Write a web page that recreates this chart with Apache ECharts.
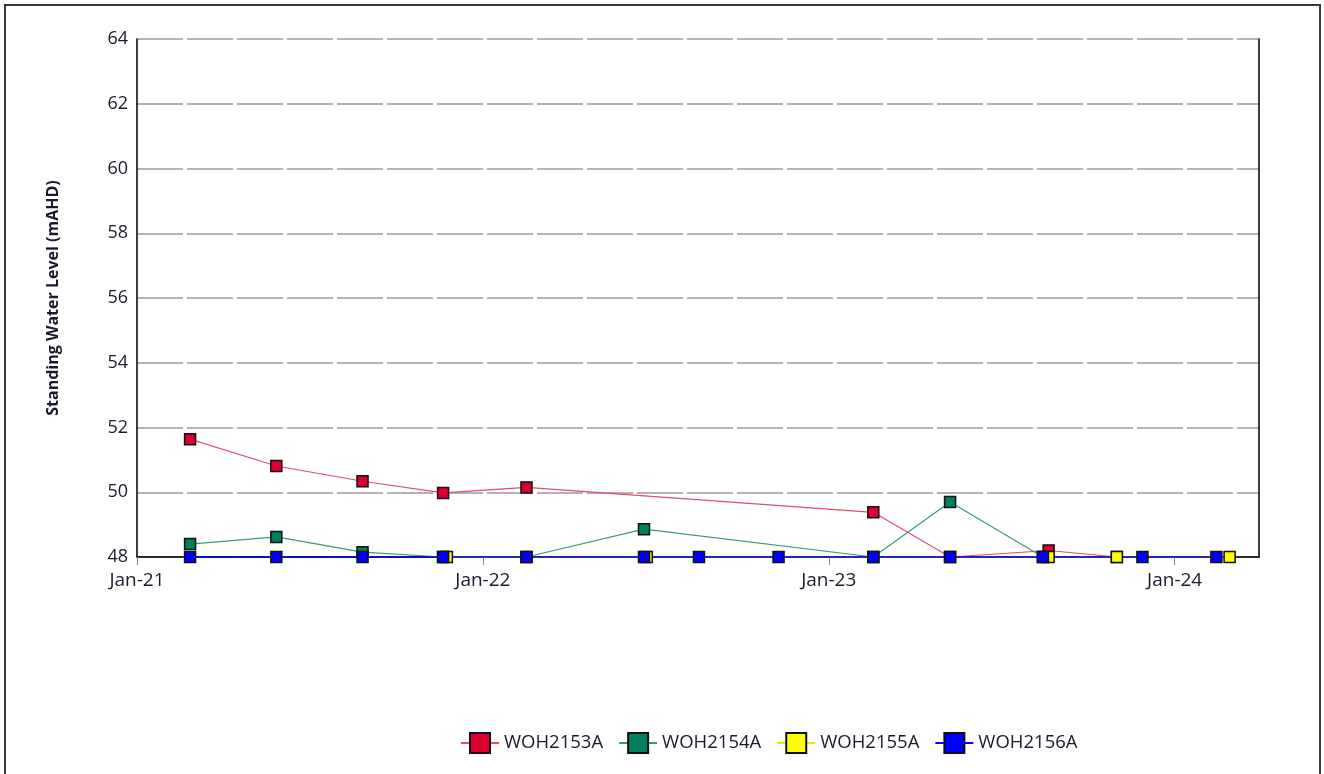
<!DOCTYPE html>
<html>
<head>
<meta charset="utf-8">
<script src="https://cdn.jsdelivr.net/npm/echarts@6/dist/echarts.min.js"></script>
<style>
  html, body { margin: 0; padding: 0; background: #fff; }
  #waterLevel { width: 1324px; height: 774px; }
</style>
</head>
<body>
<div id="waterLevel"></div>
<script>
// sample dates / values
let datesA = ['2021-02-26', '2021-05-28', '2021-08-27', '2021-11-20', '2022-02-16', '2023-02-17', '2023-05-09', '2023-08-21', '2023-11-01'];
let valuesA = [51.64, 50.81, 50.34, 49.98, 50.15, 49.38, 48.0, 48.2, 48.0];

let datesB = ['2021-02-26', '2021-05-28', '2021-08-27', '2021-11-20', '2022-02-16', '2022-06-20', '2023-02-17', '2023-05-09', '2023-08-15'];
let valuesB = [48.4, 48.62, 48.15, 48.0, 48.0, 48.86, 48.0, 49.7, 48.0];

let datesC = ['2021-11-24', '2022-06-23', '2023-08-21', '2023-11-01', '2024-02-28'];
let valuesC = [48.0, 48.0, 48.0, 48.0, 48.0];

let datesD = ['2021-02-26', '2021-05-28', '2021-08-27', '2021-11-20', '2022-02-16', '2022-06-20', '2022-08-17', '2022-11-09', '2023-02-17', '2023-05-09', '2023-08-15', '2023-11-28', '2024-02-14'];
let valuesD = [48.0, 48.0, 48.0, 48.0, 48.0, 48.0, 48.0, 48.0, 48.0, 48.0, 48.0, 48.0, 48.0];

let seriesNames = ['WOH2153A', 'WOH2154A', 'WOH2155A', 'WOH2156A'];
let lineColors = ['#ea4a66', '#3a9a78', '#e6e600', '#0000ff'];
let markColors = ['#dc0030', '#00805c', '#ffff00', '#0000ff'];

let xTickLabels = ['Jan-21', 'Jan-22', 'Jan-23', 'Jan-24'];
let xStart = '2021-01-01';
let xEnd = '2024-03-30';

var DAY = 24 * 3600 * 1000;
var fontName = "'Open Sans', 'Liberation Sans', sans-serif";
var textColor = '#1a1a2e';

function toPairs(dates, values) {
    return dates.map(function (d, i) { return [Date.parse(d), values[i]]; });
}

var allData = [toPairs(datesA, valuesA), toPairs(datesB, valuesB), toPairs(datesC, valuesC), toPairs(datesD, valuesD)];

var xMin = Date.parse(xStart);
var xMax = Date.parse(xEnd);

var levelChart = echarts.init(document.getElementById('waterLevel'));

var series = seriesNames.map(function (name, i) {
    return {
        name: name,
        type: 'line',
        data: allData[i],
        symbol: 'rect',
        symbolSize: 11,
        lineStyle: { color: lineColors[i], width: i === 3 ? 1.5 : 1.2 },
        itemStyle: { color: markColors[i], borderColor: '#111', borderWidth: 1.5 },
        emphasis: { disabled: true },
        animation: false
    };
});

option = {
    backgroundColor: '#fff',
    textStyle: { fontFamily: fontName },
    graphic: [{
        type: 'rect',
        shape: { x: 5, y: 5, width: 1315, height: 800 },
        style: { fill: 'none', stroke: '#3a3a3a', lineWidth: 2 }
    }],
    grid: { left: 137, right: 65, top: 39, bottom: 217 },
    legend: {
        top: 727,
        left: 455,
        itemWidth: 38,
        itemHeight: 25,
        itemGap: 15,
        textStyle: { fontFamily: fontName, fontSize: 18.5, color: textColor },
        data: seriesNames
    },
    xAxis: {
        type: 'value',
        min: xMin,
        max: xMax,
        interval: 365 * DAY,
        axisLine: { lineStyle: { color: '#000', width: 1.5 } },
        axisTick: { show: true, length: 8, lineStyle: { color: '#888' } },
        splitLine: { show: false },
        axisLabel: {
            margin: 14,
            fontSize: 19,
            color: textColor,
            showMaxLabel: false,
            formatter: function (v) {
                var k = Math.round((v - xMin) / (365 * DAY));
                if (Math.abs(v - xMin - k * 365 * DAY) > DAY) return '';
                return xTickLabels[k] || '';
            }
        }
    },
    yAxis: [{
        type: 'value',
        min: 48,
        max: 64,
        interval: 2,
        name: 'Standing Water Level (mAHD)',
        nameLocation: 'middle',
        nameGap: 76,
        nameTextStyle: { fontFamily: fontName, fontSize: 16, fontWeight: 'bold', color: textColor },
        axisLine: { show: true, lineStyle: { color: '#000', width: 1.5 } },
        axisTick: { show: false },
        axisLabel: { margin: 9, fontSize: 18, color: textColor },
        splitLine: { lineStyle: { color: '#9a9a9a', width: 1.5, type: [46, 4] } }
    }, {
        // right border of the plot
        type: 'value',
        min: 48,
        max: 64,
        interval: 2,
        position: 'right',
        axisLine: { show: true, lineStyle: { color: '#000', width: 1.5 } },
        axisTick: { show: false },
        axisLabel: { show: false },
        splitLine: { show: false }
    }],
    series: series
};

levelChart.setOption(option);
</script>
</body>
</html>
